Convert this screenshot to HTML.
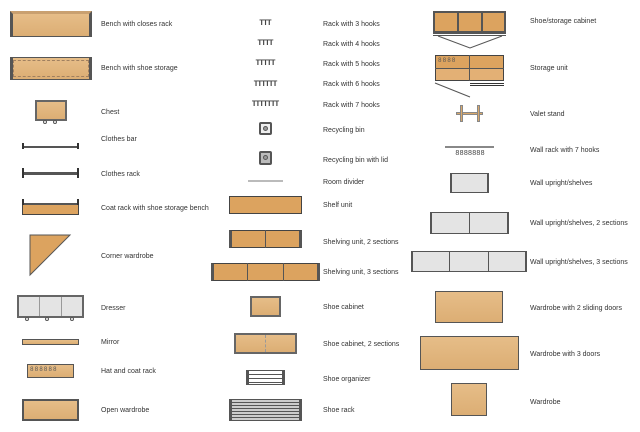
<!DOCTYPE html>
<html><head><meta charset="utf-8"><style>
body{margin:0;width:640px;height:432px;background:#fff;position:relative;overflow:hidden;font-family:"Liberation Sans",sans-serif;}
.l{position:absolute;font-size:7px;color:#333;white-space:nowrap;line-height:8px;transform:translateY(-2px);}
.b{position:absolute;box-sizing:border-box;border:1px solid #555;background:linear-gradient(#e6bd88,#dcae74);}
.o{position:absolute;box-sizing:border-box;border:1px solid #444;background:#dca35f;}
.g{position:absolute;box-sizing:border-box;border:1px solid #555;background:#e4e4e4;}
.bar{position:absolute;height:2px;background:#555;}
.p{position:absolute;width:2px;background:#666;border:1px solid #333;box-sizing:border-box;}
.h{position:absolute;font-size:8px;font-weight:bold;color:#444;letter-spacing:-1px;line-height:8px;transform:translate(-50%,-3px);font-family:"Liberation Mono",monospace;}
.c{position:absolute;width:4px;height:4px;border:1px solid #555;border-radius:50%;box-sizing:border-box;background:#fff}
</style></head><body>
<!-- column 1 -->
<div class="b" style="left:10px;top:11px;width:82px;height:26px;border-left:3px solid #555;border-right:3px solid #555;border-top:3px solid #c9a070"></div>
<div class="l" style="left:101px;top:23px">Bench with closes rack</div>
<div class="b" style="left:10px;top:57px;width:82px;height:23px;border-left:3px solid #555;border-right:3px solid #555;outline:1px dashed #a08060;outline-offset:-4px"></div>
<div class="l" style="left:101px;top:67px">Bench with shoe storage</div>
<div class="b" style="left:35px;top:100px;width:32px;height:21px;border:2px solid #666"></div>
<div class="c" style="left:43px;top:120px"></div><div class="c" style="left:53px;top:120px"></div>
<div class="l" style="left:101px;top:111px">Chest</div>
<div class="bar" style="left:23px;top:146px;width:56px"></div><div class="p" style="left:22px;top:143px;height:6px"></div><div class="p" style="left:77px;top:143px;height:6px"></div>
<div class="l" style="left:101px;top:138px">Clothes bar</div>
<div class="bar" style="left:23px;top:172px;width:56px;height:3px"></div><div class="p" style="left:22px;top:168px;height:10px"></div><div class="p" style="left:77px;top:168px;height:10px"></div>
<div class="l" style="left:101px;top:173px">Clothes rack</div>
<div class="o" style="left:22px;top:203px;width:57px;height:12px;border-top:2px solid #555"></div><div class="p" style="left:22px;top:199px;height:6px"></div><div class="p" style="left:77px;top:199px;height:6px"></div>
<div class="l" style="left:101px;top:207px">Coat rack with shoe storage bench</div>
<svg style="position:absolute;left:29px;top:234px" width="43" height="43"><polygon points="1,1 41,1 1,41" fill="#dca35f" stroke="#555"/></svg>
<div class="l" style="left:101px;top:255px">Corner wardrobe</div>
<div class="g" style="left:17px;top:295px;width:67px;height:23px;border:2px solid #666"></div>
<div style="position:absolute;left:39px;top:297px;width:1px;height:19px;background:#999"></div><div style="position:absolute;left:61px;top:297px;width:1px;height:19px;background:#999"></div>
<div class="c" style="left:25px;top:317px"></div><div class="c" style="left:45px;top:317px"></div><div class="c" style="left:70px;top:317px"></div>
<div class="l" style="left:101px;top:307px">Dresser</div>
<div class="b" style="left:22px;top:339px;width:57px;height:6px"></div>
<div class="l" style="left:101px;top:341px">Mirror</div>
<div class="b" style="left:27px;top:364px;width:47px;height:14px"></div>
<div style="position:absolute;left:30px;top:366px;font-size:6px;color:#555;letter-spacing:1px;font-family:'Liberation Mono',monospace">888888</div>
<div class="l" style="left:101px;top:370px">Hat and coat rack</div>
<div class="b" style="left:22px;top:399px;width:57px;height:22px;border:2px solid #555"></div>
<div class="l" style="left:101px;top:409px">Open wardrobe</div>
<!-- column 2 -->
<div class="h" style="left:265px;top:23px">TTT</div>
<div class="h" style="left:265px;top:43px">TTTT</div>
<div class="h" style="left:265px;top:63px">TTTTT</div>
<div class="h" style="left:265px;top:84px">TTTTTT</div>
<div class="h" style="left:265px;top:104px">TTTTTTT</div>
<div class="l" style="left:323px;top:23px">Rack with 3 hooks</div>
<div class="l" style="left:323px;top:43px">Rack with 4 hooks</div>
<div class="l" style="left:323px;top:63px">Rack with 5 hooks</div>
<div class="l" style="left:323px;top:83px">Rack with 6 hooks</div>
<div class="l" style="left:323px;top:104px">Rack with 7 hooks</div>
<div style="position:absolute;left:259px;top:122px;width:13px;height:13px;border:2px solid #555;border-radius:2px;box-sizing:border-box;background:#eee"></div>
<div class="c" style="left:263px;top:126px;width:5px;height:5px;background:#999"></div>
<div class="l" style="left:323px;top:129px">Recycling bin</div>
<div style="position:absolute;left:259px;top:151px;width:13px;height:14px;border:2px solid #555;border-radius:2px;box-sizing:border-box;background:#bbb"></div>
<div class="c" style="left:263px;top:155px;width:5px;height:5px;background:#999"></div>
<div class="l" style="left:323px;top:159px">Recycling bin with lid</div>
<div style="position:absolute;left:248px;top:180px;width:35px;height:2px;background:#bbb"></div>
<div class="l" style="left:323px;top:181px">Room divider</div>
<div class="o" style="left:229px;top:196px;width:73px;height:18px"></div>
<div class="l" style="left:323px;top:204px">Shelf unit</div>
<div class="o" style="left:229px;top:230px;width:73px;height:18px;border-left:3px solid #555;border-right:3px solid #555"></div><div style="position:absolute;left:265px;top:230px;width:1px;height:18px;background:#555"></div>
<div class="l" style="left:323px;top:241px">Shelving unit, 2 sections</div>
<div class="o" style="left:211px;top:263px;width:109px;height:18px;border-left:3px solid #555;border-right:3px solid #555"></div><div style="position:absolute;left:247px;top:263px;width:1px;height:18px;background:#555"></div><div style="position:absolute;left:283px;top:263px;width:1px;height:18px;background:#555"></div>
<div class="l" style="left:323px;top:271px">Shelving unit, 3 sections</div>
<div class="b" style="left:250px;top:296px;width:31px;height:21px;border:2px solid #666"></div>
<div class="l" style="left:323px;top:306px">Shoe cabinet</div>
<div class="b" style="left:234px;top:333px;width:63px;height:21px;border:2px solid #666"></div>
<div style="position:absolute;left:265px;top:335px;width:0;height:17px;border-left:1px dashed #999"></div>
<div class="l" style="left:323px;top:343px">Shoe cabinet, 2 sections</div>
<div style="position:absolute;left:246px;top:370px;width:39px;height:15px;box-sizing:border-box;border:1px solid #555;border-left:3px solid #555;border-right:3px solid #555;background:repeating-linear-gradient(#fff 0 3px,#555 3px 4px)"></div>
<div class="l" style="left:323px;top:378px">Shoe organizer</div>
<div style="position:absolute;left:229px;top:399px;width:73px;height:22px;box-sizing:border-box;border:1px solid #555;border-left:3px solid #555;border-right:3px solid #555;background:repeating-linear-gradient(#ccc 0 2px,#555 2px 3px)"></div>
<div class="l" style="left:323px;top:409px">Shoe rack</div>
<!-- column 3 -->
<div class="o" style="left:433px;top:11px;width:73px;height:22px;border:2px solid #555"></div><div style="position:absolute;left:457px;top:11px;width:2px;height:22px;background:#555"></div><div style="position:absolute;left:481px;top:11px;width:2px;height:22px;background:#555"></div>
<div style="position:absolute;left:433px;top:33px;width:73px;height:3px;border-top:1px solid #555;border-bottom:1px solid #555;box-sizing:border-box"></div>
<svg style="position:absolute;left:430px;top:30px" width="80" height="70"><path d="M8 6 L40 18 L72 6 M5 53 L40 67" stroke="#555" fill="none"/></svg>
<div class="l" style="left:530px;top:20px">Shoe/storage cabinet</div>
<div class="o" style="left:435px;top:55px;width:69px;height:26px;background:linear-gradient(#dca35f 50%,#e3b075 50%)"></div><div style="position:absolute;left:469px;top:55px;width:1px;height:26px;background:#555"></div><div style="position:absolute;left:435px;top:68px;width:69px;height:1px;background:#555"></div>
<div style="position:absolute;left:438px;top:57px;font-size:6px;color:#555;letter-spacing:1px;font-family:'Liberation Mono',monospace">8888</div>
<div style="position:absolute;left:470px;top:83px;width:34px;height:3px;border-top:1px solid #333;border-bottom:1px solid #333;box-sizing:border-box"></div>
<div class="l" style="left:530px;top:67px">Storage unit</div>
<div style="position:absolute;left:456px;top:112px;width:27px;height:3px;background:#d9a86a;border:1px solid #888;box-sizing:border-box"></div><div style="position:absolute;left:460px;top:105px;width:3px;height:17px;background:#d9a86a;border:1px solid #888;box-sizing:border-box"></div><div style="position:absolute;left:477px;top:105px;width:3px;height:17px;background:#d9a86a;border:1px solid #888;box-sizing:border-box"></div>
<div class="l" style="left:530px;top:113px">Valet stand</div>
<div style="position:absolute;left:445px;top:146px;width:49px;height:2px;background:#888"></div>
<div class="h" style="left:470px;top:153px;font-size:7px;font-weight:normal;letter-spacing:0">8888888</div>
<div class="l" style="left:530px;top:149px">Wall rack with 7 hooks</div>
<div class="g" style="left:450px;top:173px;width:39px;height:20px;border-left:2px solid #555;border-right:2px solid #555"></div>
<div class="l" style="left:530px;top:182px">Wall upright/shelves</div>
<div class="g" style="left:430px;top:212px;width:79px;height:22px;border-left:2px solid #555;border-right:2px solid #555"></div><div style="position:absolute;left:469px;top:212px;width:1px;height:22px;background:#555"></div>
<div class="l" style="left:530px;top:222px">Wall upright/shelves, 2 sections</div>
<div class="g" style="left:411px;top:251px;width:116px;height:21px;border-left:2px solid #555;border-right:2px solid #555"></div><div style="position:absolute;left:449px;top:251px;width:1px;height:21px;background:#555"></div><div style="position:absolute;left:488px;top:251px;width:1px;height:21px;background:#555"></div>
<div class="l" style="left:530px;top:261px">Wall upright/shelves, 3 sections</div>
<div class="b" style="left:435px;top:291px;width:68px;height:32px"></div>
<div class="l" style="left:530px;top:307px">Wardrobe with 2 sliding doors</div>
<div class="b" style="left:420px;top:336px;width:99px;height:34px"></div>
<div class="l" style="left:530px;top:353px">Wardrobe with 3 doors</div>
<div class="b" style="left:451px;top:383px;width:36px;height:33px"></div>
<div class="l" style="left:530px;top:401px">Wardrobe</div>
</body></html>
